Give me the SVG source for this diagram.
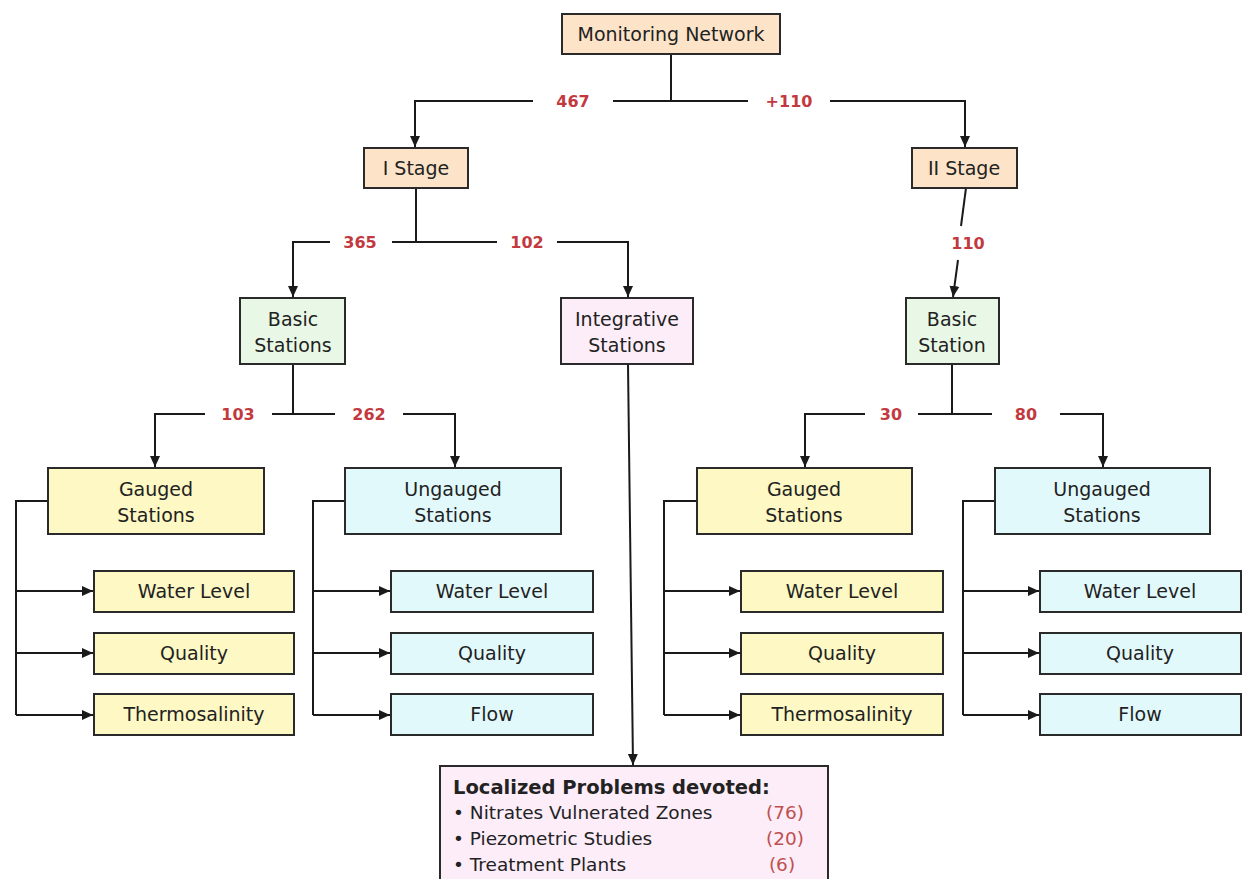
<svg xmlns="http://www.w3.org/2000/svg" width="1242" height="879" viewBox="0 0 1242 879">
<defs>
<marker id="arr" markerUnits="userSpaceOnUse" markerWidth="12" markerHeight="12" refX="11" refY="6" orient="auto">
<path d="M0,1 L11,6 L0,11 Z" fill="#1a1a1a"/>
</marker>
<style>
.box{stroke:#2a2a2a;stroke-width:2}
.peach{fill:#fde4c9}
.green{fill:#e9f8e6}
.pink{fill:#fcedf9}
.yellow{fill:#fdf8c4}
.cyan{fill:#e2f9fc}
text{font-family:"DejaVu Sans","Liberation Sans",sans-serif;fill:#222}
.t{font-size:19px;text-anchor:middle}
.n{font-size:16px;font-weight:bold;fill:#c23a3f;text-anchor:middle}
.ln{fill:none;stroke:#1a1a1a;stroke-width:2}
.a{marker-end:url(#arr)}
.l{font-size:18.5px}
.r{font-size:18.5px;fill:#c0504d}
</style>
</defs>
<rect width="1242" height="879" fill="#ffffff"/>
<g id="connectors">
<path class="ln" d="M671,54 V101"/>
<path class="ln a" d="M533,101 H415 V147"/>
<path class="ln" d="M613,101 H748"/>
<path class="ln a" d="M830,101 H965 V147"/>
<path class="ln" d="M416,188 V242"/>
<path class="ln a" d="M330,242 H293 V297"/>
<path class="ln" d="M392,242 H497"/>
<path class="ln a" d="M557,242 H628 V297"/>
<path class="ln" d="M966,188 L961,226"/>
<path class="ln a" d="M958,260 L953,297"/>
<path class="ln" d="M293,364 V414"/>
<path class="ln a" d="M205,414 H155 V467"/>
<path class="ln" d="M272,414 H335"/>
<path class="ln a" d="M403,414 H455 V467"/>
<path class="ln" d="M952,364 V414"/>
<path class="ln a" d="M865,414 H805 V467"/>
<path class="ln" d="M918,414 H992"/>
<path class="ln a" d="M1060,414 H1103 V467"/>
<path class="ln a" d="M628,364 L633,765"/>
<path class="ln" d="M48,501 H16 V715"/>
<path class="ln a" d="M16,591 H93"/>
<path class="ln a" d="M16,653 H93"/>
<path class="ln a" d="M16,715 H93"/>
<path class="ln" d="M345,501 H313 V715"/>
<path class="ln a" d="M313,591 H390"/>
<path class="ln a" d="M313,653 H390"/>
<path class="ln a" d="M313,715 H390"/>
<path class="ln" d="M697,501 H664 V715"/>
<path class="ln a" d="M664,591 H740"/>
<path class="ln a" d="M664,653 H740"/>
<path class="ln a" d="M664,715 H740"/>
<path class="ln" d="M995,501 H963 V715"/>
<path class="ln a" d="M963,591 H1039"/>
<path class="ln a" d="M963,653 H1039"/>
<path class="ln a" d="M963,715 H1039"/>
<text class="n" x="573" y="107">467</text>
<text class="n" x="789" y="107">+110</text>
<text class="n" x="360" y="248">365</text>
<text class="n" x="527" y="248">102</text>
<text class="n" x="968" y="249">110</text>
<text class="n" x="238" y="420">103</text>
<text class="n" x="369" y="420">262</text>
<text class="n" x="891" y="420">30</text>
<text class="n" x="1026" y="420">80</text>
</g>
<g id="monitoring-network"><rect class="box peach" x="562" y="14" width="218" height="40"/><text class="t" x="671" y="41">Monitoring Network</text></g>
<g id="stage-1"><rect class="box peach" x="364" y="148" width="104" height="40"/><text class="t" x="416" y="175">I Stage</text></g>
<g id="stage-2"><rect class="box peach" x="912" y="148" width="105" height="40"/><text class="t" x="964" y="175">II Stage</text></g>
<g id="basic-stations"><rect class="box green" x="240" y="298" width="105" height="66"/><text class="t" x="293" y="326">Basic</text><text class="t" x="293" y="352">Stations</text></g>
<g id="integrative-stations"><rect class="box pink" x="561" y="298" width="132" height="66"/><text class="t" x="627" y="326">Integrative</text><text class="t" x="627" y="352">Stations</text></g>
<g id="basic-station-2"><rect class="box green" x="906" y="298" width="93" height="66"/><text class="t" x="952" y="326">Basic</text><text class="t" x="952" y="352">Station</text></g>
<g id="gauged-1"><rect class="box yellow" x="48" y="468" width="216" height="66"/><text class="t" x="156" y="496">Gauged</text><text class="t" x="156" y="522">Stations</text></g>
<g id="ungauged-1"><rect class="box cyan" x="345" y="468" width="216" height="66"/><text class="t" x="453" y="496">Ungauged</text><text class="t" x="453" y="522">Stations</text></g>
<g id="gauged-2"><rect class="box yellow" x="697" y="468" width="215" height="66"/><text class="t" x="804" y="496">Gauged</text><text class="t" x="804" y="522">Stations</text></g>
<g id="ungauged-2"><rect class="box cyan" x="995" y="468" width="215" height="66"/><text class="t" x="1102" y="496">Ungauged</text><text class="t" x="1102" y="522">Stations</text></g>
<g id="g1-water"><rect class="box yellow" x="94" y="571" width="200" height="41"/><text class="t" x="194" y="598">Water Level</text></g>
<g id="g1-quality"><rect class="box yellow" x="94" y="633" width="200" height="41"/><text class="t" x="194" y="660">Quality</text></g>
<g id="g1-thermo"><rect class="box yellow" x="94" y="694" width="200" height="41"/><text class="t" x="194" y="721">Thermosalinity</text></g>
<g id="u1-water"><rect class="box cyan" x="391" y="571" width="202" height="41"/><text class="t" x="492" y="598">Water Level</text></g>
<g id="u1-quality"><rect class="box cyan" x="391" y="633" width="202" height="41"/><text class="t" x="492" y="660">Quality</text></g>
<g id="u1-flow"><rect class="box cyan" x="391" y="694" width="202" height="41"/><text class="t" x="492" y="721">Flow</text></g>
<g id="g2-water"><rect class="box yellow" x="741" y="571" width="202" height="41"/><text class="t" x="842" y="598">Water Level</text></g>
<g id="g2-quality"><rect class="box yellow" x="741" y="633" width="202" height="41"/><text class="t" x="842" y="660">Quality</text></g>
<g id="g2-thermo"><rect class="box yellow" x="741" y="694" width="202" height="41"/><text class="t" x="842" y="721">Thermosalinity</text></g>
<g id="u2-water"><rect class="box cyan" x="1040" y="571" width="201" height="41"/><text class="t" x="1140" y="598">Water Level</text></g>
<g id="u2-quality"><rect class="box cyan" x="1040" y="633" width="201" height="41"/><text class="t" x="1140" y="660">Quality</text></g>
<g id="u2-flow"><rect class="box cyan" x="1040" y="694" width="201" height="41"/><text class="t" x="1140" y="721">Flow</text></g>
<g id="localized-problems"><rect class="box pink" x="440" y="766" width="388" height="125"/>
<text x="453" y="794" style="font-size:19.5px;font-weight:bold">Localized Problems devoted:</text>
<text class="l" x="453" y="819">• Nitrates Vulnerated Zones</text>
<text class="l" x="453" y="845">• Piezometric Studies</text>
<text class="l" x="453" y="871">• Treatment Plants</text>
<text class="r" x="785" y="819" text-anchor="middle">(76)</text>
<text class="r" x="785" y="845" text-anchor="middle">(20)</text>
<text class="r" x="782" y="871" text-anchor="middle">(6)</text>
</g>
</svg>
